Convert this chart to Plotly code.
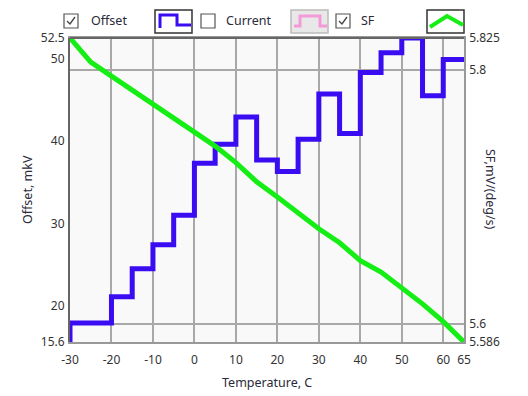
import plotly.graph_objects as go

# ---- data ----
offset_temp = [-30, -30, -20, -15, -10, -5, 0, 5, 10, 15, 20, 25, 30, 35, 40, 45, 50, 55, 60, 65]
offset_mkv = [15.6, 17.9, 21.1, 24.5, 27.4, 31.0, 37.3, 39.6, 42.9, 37.7, 36.3, 40.2, 45.7, 40.9, 48.3, 50.7, 52.5, 45.5, 49.9, 49.9]

sf_temp = [-30, -25, -20, -15, -10, -5, 0, 5, 10, 15, 20, 25, 30, 35, 40, 45, 50, 55, 60, 65]
sf_val = [5.825, 5.806, 5.795, 5.784, 5.772, 5.762, 5.751, 5.740, 5.727, 5.712,
          5.700, 5.687, 5.675, 5.664, 5.650, 5.641, 5.629, 5.616, 5.602, 5.586]

x_ticks = [-30, -20, -10, 0, 10, 20, 30, 40, 50, 60, 65]
y_ticks = [15.6, 20, 30, 40, 50, 52.5]
y2_ticks = [5.586, 5.6, 5.8, 5.825]

BLUE = "#3a0cf2"
GREEN = "#14ee14"
PINK = "#f59ad8"
FONT = "Noto Sans"
TXT = "#2a2a3a"

L, R, T, B = 70, 64, 38, 54
W, H = 528, 396
PW, PH = W - L - R, H - T - B


def px(x):
    return (x - L) / PW


def py(y):
    return (H - B - y) / PH


fig = go.Figure()
fig.add_trace(go.Scatter(x=offset_temp, y=offset_mkv, mode="lines", line=dict(color=BLUE, width=5, shape="hv"),
                         yaxis="y", showlegend=False))
fig.add_trace(go.Scatter(x=sf_temp, y=sf_val, mode="lines", line=dict(color=GREEN, width=5),
                         yaxis="y2", showlegend=False))

shapes = []
annotations = []


def checkbox(x0, y0, checked):
    shapes.append(dict(type="rect", xref="paper", yref="paper", x0=px(x0), x1=px(x0 + 14), y0=py(y0 + 14), y1=py(y0),
                       line=dict(color="#555555", width=1.2), fillcolor="white"))
    if checked:
        pts = [(x0 + 3, y0 + 7), (x0 + 6, y0 + 10), (x0 + 11, y0 + 3)]
        path = "M " + " L ".join(f"{px(a)},{py(b)}" for a, b in pts)
        shapes.append(dict(type="path", xref="paper", yref="paper", path=path, line=dict(color="#444444", width=1.3)))


def iconbox(x0, y0, fill, border):
    shapes.append(dict(type="rect", xref="paper", yref="paper", x0=px(x0), x1=px(x0 + 37), y0=py(y0 + 23), y1=py(y0),
                       line=dict(color=border, width=1.5), fillcolor=fill))


def polyline(pts, color, width):
    path = "M " + " L ".join(f"{px(a)},{py(b)}" for a, b in pts)
    shapes.append(dict(type="path", xref="paper", yref="paper", path=path, line=dict(color=color, width=width)))


# Offset
checkbox(64, 14, True)
annotations.append(dict(xref="paper", yref="paper", x=px(89), y=py(21), text="Offset", showarrow=False,
                        xanchor="left", yanchor="middle", font=dict(family=FONT, size=12.5, color=TXT)))
iconbox(155, 10, "white", "#333333")
polyline([(160, 28), (160, 15), (177, 15), (177, 25), (191, 25)], BLUE, 3)
# Current
checkbox(201, 14, False)
annotations.append(dict(xref="paper", yref="paper", x=px(224), y=py(21), text="Current", showarrow=False,
                        xanchor="left", yanchor="middle", font=dict(family=FONT, size=12.5, color=TXT)))
iconbox(291, 10, "#e8e8e8", "#bbbbbb")
polyline([(294, 26), (300, 26), (300, 16), (320, 16), (320, 26), (327, 26)], PINK, 3)
# SF
checkbox(336, 14, True)
annotations.append(dict(xref="paper", yref="paper", x=px(359), y=py(21), text="SF", showarrow=False,
                        xanchor="left", yanchor="middle", font=dict(family=FONT, size=12.5, color=TXT)))
iconbox(427, 10, "white", "#333333")
polyline([(430, 27), (447, 16), (463, 25)], GREEN, 4)

# axis titles
annotations.append(dict(xref="paper", yref="paper", x=px(27), y=0.5, text="Offset, mkV", showarrow=False,
                        textangle=-90, xanchor="center", yanchor="middle", font=dict(family=FONT, size=12.5, color=TXT)))
annotations.append(dict(xref="paper", yref="paper", x=px(491), y=py(189), text="SF,mV/(deg/s)", showarrow=False,
                        textangle=90, xanchor="center", yanchor="middle", font=dict(family=FONT, size=12.5, color=TXT)))
annotations.append(dict(xref="paper", yref="paper", x=0.5, y=py(382), text="Temperature, C", showarrow=False,
                        xanchor="center", yanchor="middle", font=dict(family=FONT, size=12.5, color=TXT)))

fig.update_layout(
    width=W, height=H,
    margin=dict(l=L, r=R, t=T, b=B),
    paper_bgcolor="white",
    plot_bgcolor="#f9f9f9",
    font=dict(family=FONT, size=12, color="#333333"),
    xaxis=dict(range=[-30, 65], tickvals=x_ticks, ticktext=[str(v) for v in x_ticks], showgrid=True,
               gridcolor="#a8a8a8", gridwidth=1.5, zeroline=False, showline=True, linecolor="#999999",
               linewidth=1.5, mirror=True, ticks="", ticklabelstandoff=6),
    yaxis=dict(range=[15.6, 52.5], tickvals=y_ticks, ticktext=["15.6", "20", "30", "40", "50", "52.5"],
               showgrid=False, zeroline=False, showline=True, linecolor="#666666", linewidth=2, mirror=False,
               ticks="", ticklabelstandoff=1),
    yaxis2=dict(range=[5.586, 5.825], tickvals=y2_ticks, ticktext=["5.586", "5.6", "5.8", "5.825"],
                overlaying="y", side="right", showgrid=True, gridcolor="#a8a8a8", gridwidth=1.5,
                zeroline=False, showline=True, linecolor="#999999", linewidth=1.5, ticks="", ticklabelstandoff=1),
    shapes=shapes,
    annotations=annotations,
)
# top frame line
fig.add_shape(type="line", xref="paper", yref="paper", x0=0, x1=1, y0=1, y1=1, line=dict(color="#666666", width=2))

fig.write_html("out.html")
